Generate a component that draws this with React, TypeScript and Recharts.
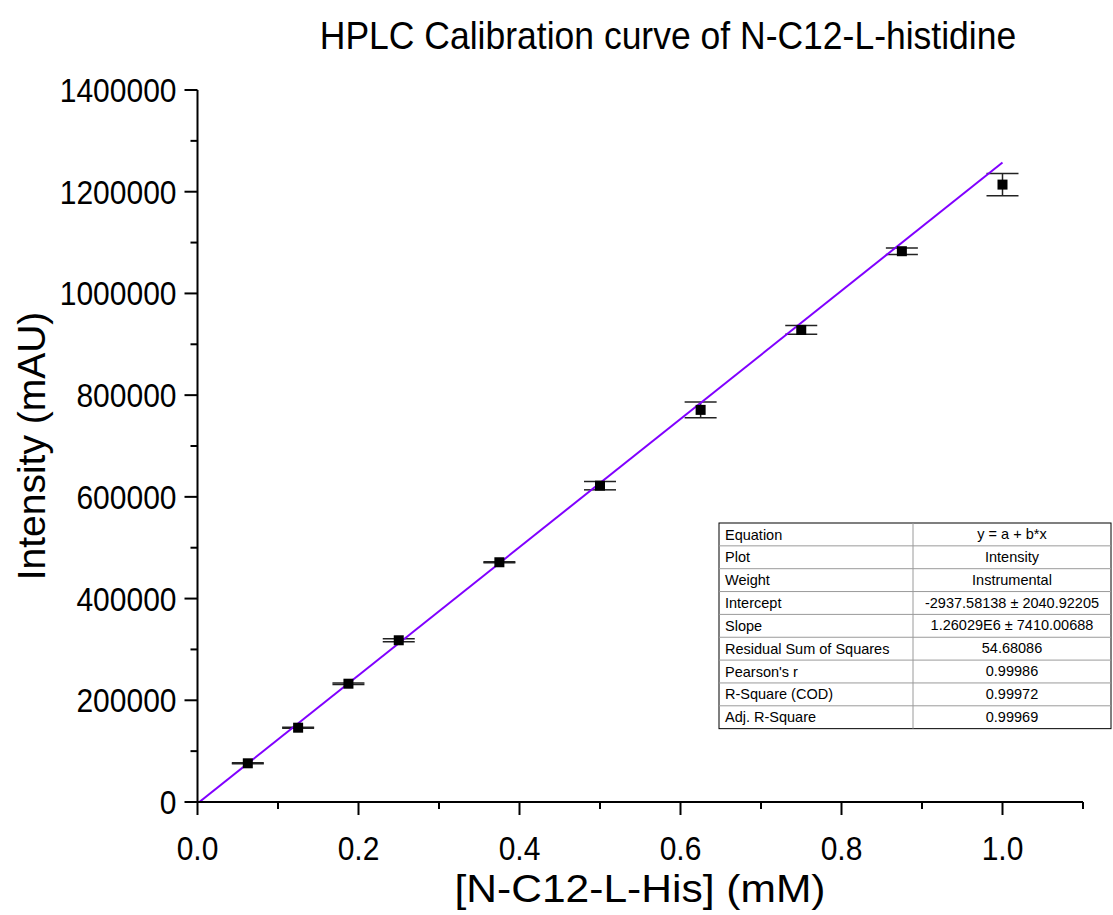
import React from 'react';
import { ScatterChart, Scatter, XAxis, YAxis, ErrorBar, ReferenceLine } from 'recharts';

// calibration standards (mM) and measured peak areas
const concentration = [0.0625, 0.125, 0.1875, 0.25, 0.375, 0.5, 0.625, 0.75, 0.875, 1.0];
const intensity = [76100, 146100, 232600, 318000, 471400, 622000, 771000, 928200, 1083000, 1214000];
const intensityErr = [1000, 1000, 1500, 3000, 1000, 8200, 15300, 8500, 6500, 22000];

// linear fit y = a + b*x
const fitIntercept = -2937.58138;
const fitSlope = 1260290;
const fitRange = [0, 1.0];

const xTicks = [0, 0.1, 0.2, 0.3, 0.4, 0.5, 0.6, 0.7, 0.8, 0.9, 1.0, 1.1];
const xMajor = [0, 0.2, 0.4, 0.6, 0.8, 1.0];
const yTicks = [0, 100000, 200000, 300000, 400000, 500000, 600000, 700000, 800000, 900000, 1000000, 1100000, 1200000, 1300000, 1400000];
const yMajor = [0, 200000, 400000, 600000, 800000, 1000000, 1200000, 1400000];

const tableLabels = ['Equation', 'Plot', 'Weight', 'Intercept', 'Slope', 'Residual Sum of Squares', "Pearson's r", 'R-Square (COD)', 'Adj. R-Square'];
const tableValues = ['y = a + b*x', 'Intensity', 'Instrumental', '-2937.58138 ± 2040.92205', '1.26029E6 ± 7410.00688', '54.68086', '0.99986', '0.99972', '0.99969'];

const FONT = '"Liberation Sans", Arial, sans-serif';

const data = concentration.map((c, i) => ({ x: c, y: intensity[i], err: intensityErr[i] }));

const fitSegment = fitRange.map((x) => ({ x, y: fitIntercept + fitSlope * x }));

const isMajor = (list: number[], v: number) => list.some((m) => Math.abs(m - v) < 1e-6);

const XTick = (props: any) => {
  const { x, y, payload } = props;
  const v = payload.value;
  const major = isMajor(xMajor, v);
  return (
    <g>
      <line x1={x} x2={x} y1={y} y2={y + (major ? 13 : 7)} stroke="#000" strokeWidth={2} />
      {major && (
        <text transform={`translate(${x},${y + 58}) scale(1,1.1)`} textAnchor="middle" fontSize={30} fontFamily={FONT} fill="#000">
          {v.toFixed(1)}
        </text>
      )}
    </g>
  );
};

const YTick = (props: any) => {
  const { x, y, payload } = props;
  const v = payload.value;
  const major = isMajor(yMajor, v);
  return (
    <g>
      <line x1={x} x2={x - (major ? 13 : 7)} y1={y} y2={y} stroke="#000" strokeWidth={2} />
      {major && (
        <text transform={`translate(${x - 21},${y + 12}) scale(1,1.1)`} textAnchor="end" fontSize={30} fontFamily={FONT} fill="#000">
          {v}
        </text>
      )}
    </g>
  );
};

const Square = (props: any) => <rect x={props.cx - 5} y={props.cy - 5} width={10} height={10} fill="#000" />;

const tableLeft = 719;
const tableTop = 523;
const tableRight = 1111;
const colSplit = 913;
const rowH = 22.85;

export default function App() {
  return (
    <div style={{ position: 'absolute', left: 0, top: 0, width: 1113, height: 915, background: '#fff' }}>
      <ScatterChart width={1113} height={915} margin={{ top: 90, right: 30, left: 0, bottom: 53 }}>
        <XAxis
          type="number"
          dataKey="x"
          domain={[0, 1.1]}
          ticks={xTicks}
          tick={<XTick />}
          tickLine={false}
          tickSize={0}
          tickMargin={0}
          height={60}
          axisLine={{ stroke: '#000', strokeWidth: 2 }}
          allowDataOverflow
        />
        <YAxis
          type="number"
          dataKey="y"
          domain={[0, 1400000]}
          ticks={yTicks}
          tick={<YTick />}
          tickLine={false}
          tickSize={0}
          tickMargin={0}
          width={197.5}
          axisLine={{ stroke: '#000', strokeWidth: 2 }}
          allowDataOverflow
        />
        <Scatter data={data} shape={<Square />} isAnimationActive={false}>
          <ErrorBar dataKey="err" direction="y" width={16} stroke="#222" strokeWidth={1.5} />
        </Scatter>
        <ReferenceLine segment={fitSegment} stroke="#8000FF" strokeWidth={2} ifOverflow="hidden" />
      </ScatterChart>
      <svg width={1113} height={915} style={{ position: 'absolute', left: 0, top: 0, pointerEvents: 'none' }}>
        <text transform="translate(668,49) scale(1,1.09)" textAnchor="middle" fontSize={35.5} fontFamily={FONT} fill="#000">
          HPLC Calibration curve of N-C12-L-histidine
        </text>
        <text transform="translate(45,446) rotate(-90)" textAnchor="middle" fontSize={39} fontFamily={FONT} fill="#000">
          Intensity (mAU)
        </text>
        <text transform="translate(640,902) scale(1.12,1)" textAnchor="middle" fontSize={38} fontFamily={FONT} fill="#000">
          [N-C12-L-His] (mM)
        </text>
        <g>
          <rect x={tableLeft} y={tableTop} width={tableRight - tableLeft} height={rowH * tableLabels.length} fill="#fff" stroke="#000" strokeWidth={1} />
          {tableLabels.slice(1).map((_, i) => (
            <line key={'r' + i} x1={tableLeft} x2={tableRight} y1={tableTop + rowH * (i + 1)} y2={tableTop + rowH * (i + 1)} stroke="#9a9a9a" strokeWidth={1} />
          ))}
          <line x1={colSplit} x2={colSplit} y1={tableTop} y2={tableTop + rowH * tableLabels.length} stroke="#9a9a9a" strokeWidth={1} />
          {tableLabels.map((t, i) => (
            <text key={'l' + i} x={tableLeft + 6} y={tableTop + rowH * i + 16.5} fontSize={14.5} fontFamily={FONT} fill="#000">
              {t}
            </text>
          ))}
          {tableValues.map((t, i) => (
            <text key={'v' + i} x={(colSplit + tableRight) / 2} y={tableTop + rowH * i + 16} textAnchor="middle" fontSize={14.5} fontFamily={FONT} fill="#000">
              {t}
            </text>
          ))}
        </g>
      </svg>
    </div>
  );
}
